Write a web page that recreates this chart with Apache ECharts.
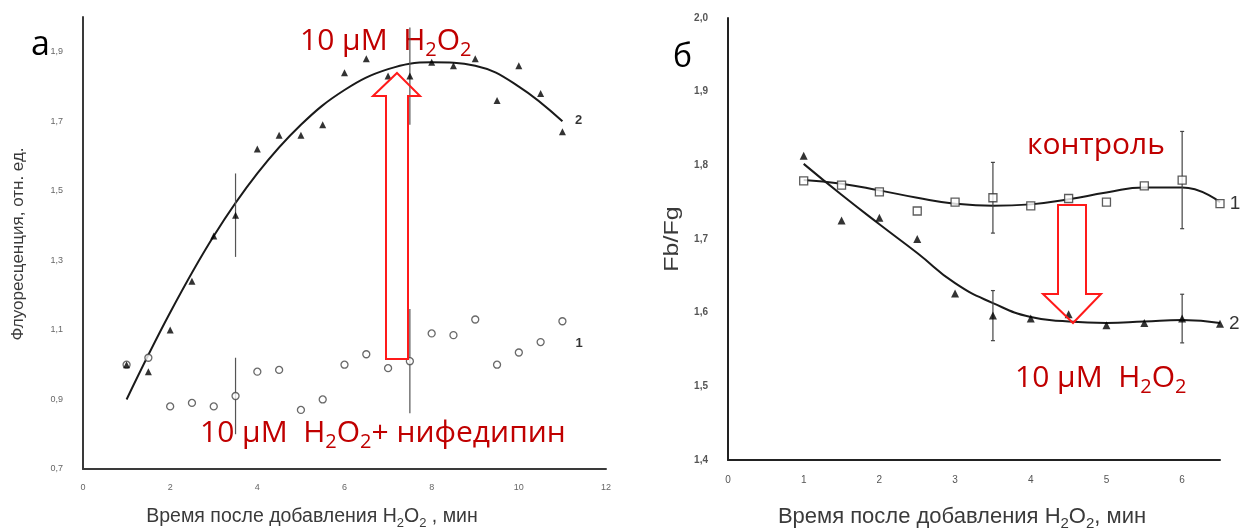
<!DOCTYPE html>
<html><head><meta charset="utf-8">
<script src="https://cdn.jsdelivr.net/npm/echarts@6/dist/echarts.min.js"></script>
<style>html,body{margin:0;padding:0;background:#fff}#c{width:1240px;height:529px}</style>
</head><body><div id="c"></div>
<script>
// ---------- Panel а ----------
const timeA = [1, 1.5, 2, 2.5, 3, 3.5, 4, 4.5, 5, 5.5, 6, 6.5, 7, 7.5, 8, 8.5, 9, 9.5, 10, 10.5, 11];
const nifedipineA = [1.00, 1.02, 0.88, 0.89, 0.88, 0.91, 0.98, 0.985, 0.87, 0.90, 1.00, 1.03, 0.99, 1.01, 1.09, 1.085, 1.13, 1.00, 1.035, 1.065, 1.125];
const h2o2A = [1.00, 0.98, 1.10, 1.24, 1.37, 1.43, 1.62, 1.66, 1.66, 1.69, 1.84, 1.88, 1.83, 1.83, 1.87, 1.86, 1.88, 1.76, 1.86, 1.78, 1.67];
const trendTimeA = [1, 2, 3, 4, 5, 6, 7, 8, 9, 10, 11];
const trendA = [0.90, 1.15, 1.37, 1.55, 1.69, 1.79, 1.85, 1.87, 1.86, 1.80, 1.70];
const errTimeA = [3.5, 7.5, 3.5, 7.5];
const errMeanA = [1.43, 1.83, 0.91, 1.01];
const errSizeA = [0.12, 0.14, 0.11, 0.15];
const yTicksA = ['0,7', '0,9', '1,1', '1,3', '1,5', '1,7', '1,9'];

// ---------- Panel б ----------
const timeB = [1, 1.5, 2, 2.5, 3, 3.5, 4, 4.5, 5, 5.5, 6, 6.5];
const controlB = [1.779, 1.773, 1.764, 1.738, 1.750, 1.756, 1.745, 1.755, 1.750, 1.772, 1.780, 1.748];
const h2o2B = [1.813, 1.725, 1.729, 1.700, 1.626, 1.596, 1.592, 1.598, 1.583, 1.586, 1.592, 1.585];
const trendControlB = [1.780, 1.775, 1.766, 1.756, 1.748, 1.745, 1.747, 1.754, 1.763, 1.770, 1.770, 1.750];
const trendH2o2B = [1.802, 1.760, 1.720, 1.681, 1.640, 1.613, 1.594, 1.588, 1.586, 1.588, 1.590, 1.586];
const errTimeB = [3.5, 6, 3.5, 6];
const errMeanB = [1.756, 1.780, 1.596, 1.592];
const errSizeB = [0.048, 0.066, 0.034, 0.033];
const yTicksB = ['1,4', '1,5', '1,6', '1,7', '1,8', '1,9', '2,0'];
const xTicksB = ['0', '1', '2', '3', '4', '5', '6'];

const fmt = v => (Math.round(v * 10) / 10).toFixed(1).replace('.', ',');
const pairs = (xs, ys) => xs.map((x, i) => [x, ys[i]]);
const errData = (xs, ys, es) => xs.map((x, i) => [x, ys[i], es[i]]);

function withLastLabel(data, text, offset, size, weight) {
  return data.map((d, i) => i === data.length - 1
    ? { value: d, label: { show: true, position: 'right', formatter: text, offset: offset, fontSize: size, fontWeight: weight, color: '#000', fontFamily: 'Liberation Sans' } }
    : d);
}

function errRender(cap, color) {
  return function (params, api) {
    const x = api.value(0), y = api.value(1), e = api.value(2);
    const t = api.coord([x, y + e]);
    const b = api.coord([x, y - e]);
    const st = { stroke: color, lineWidth: 1.2 };
    const ch = [{ type: 'line', shape: { x1: t[0], y1: t[1], x2: b[0], y2: b[1] }, style: st }];
    if (cap) {
      ch.push({ type: 'line', shape: { x1: t[0] - 2, y1: t[1], x2: t[0] + 2, y2: t[1] }, style: st });
      ch.push({ type: 'line', shape: { x1: b[0] - 2, y1: b[1], x2: b[0] + 2, y2: b[1] }, style: st });
    }
    return { type: 'group', children: ch };
  };
}

const axisFont = 'Liberation Sans';
const chart = echarts.init(document.getElementById('c'), null, { renderer: 'canvas' });

const redRich = (size, sub) => ({
  a: { fontSize: size, fontFamily: 'Open Sans', fill: '#c00000', color: '#c00000', lineHeight: Math.round(size * 1.27) },
  s: { fontSize: sub, fontFamily: 'Open Sans', fill: '#c00000', color: '#c00000', verticalAlign: 'bottom', lineHeight: sub }
});
const greyRich = (size, sub) => ({
  a: { fontSize: size, fontFamily: axisFont, fill: '#3a3a3a', color: '#3a3a3a', lineHeight: Math.round(size * 1.27) },
  s: { fontSize: sub, fontFamily: axisFont, fill: '#3a3a3a', color: '#3a3a3a', verticalAlign: 'bottom', lineHeight: sub }
});

const option = {
  animation: false,
  backgroundColor: '#fff',
  grid: [
    { left: 83, top: 17, width: 523, height: 452 },
    { left: 728, top: 18, width: 492, height: 442 }
  ],
  xAxis: [
    {
      gridIndex: 0, type: 'value', min: 0, max: 12, interval: 2,
      axisLine: { show: true, onZero: false, lineStyle: { color: '#3a3a3a', width: 2 } },
      axisTick: { show: false }, splitLine: { show: false },
      axisLabel: { fontSize: 9, color: '#666', margin: 14, fontFamily: axisFont }
    },
    {
      gridIndex: 1, type: 'value', min: 0, max: 6.5, interval: 1,
      axisLine: { show: true, onZero: false, lineStyle: { color: '#222', width: 2 } },
      axisTick: { show: false }, splitLine: { show: false },
      axisLabel: {
        fontSize: 10, color: '#555', margin: 15, fontFamily: axisFont, showMaxLabel: false,
        formatter: v => xTicksB.includes(String(v)) ? String(v) : ''
      }
    }
  ],
  yAxis: [
    {
      gridIndex: 0, type: 'value', min: 0.7, max: 2.0, interval: 0.1,
      axisLine: { show: true, onZero: false, lineStyle: { color: '#3a3a3a', width: 2 } },
      axisTick: { show: false }, splitLine: { show: false },
      axisLabel: {
        fontSize: 9, color: '#666', margin: 20, fontFamily: axisFont, showMaxLabel: false,
        formatter: v => yTicksA.includes(fmt(v)) ? fmt(v) : ''
      }
    },
    {
      gridIndex: 1, type: 'value', min: 1.4, max: 2.0, interval: 0.1,
      axisLine: { show: true, onZero: false, lineStyle: { color: '#222', width: 2 } },
      axisTick: { show: false }, splitLine: { show: false },
      axisLabel: {
        fontSize: 10, color: '#555', margin: 20, fontFamily: axisFont, fontWeight: 'bold',
        formatter: v => yTicksB.includes(fmt(v)) ? fmt(v) : ''
      }
    }
  ],
  series: [
    // panel а
    {
      type: 'line', xAxisIndex: 0, yAxisIndex: 0, data: pairs(trendTimeA, trendA), smooth: 0.4,
      symbol: 'none', lineStyle: { color: '#1a1a1a', width: 2 }, z: 2
    },
    {
      type: 'custom', xAxisIndex: 0, yAxisIndex: 0, data: errData(errTimeA, errMeanA, errSizeA),
      encode: { x: 0, y: 1 }, renderItem: errRender(false, '#555'), z: 3
    },
    {
      type: 'scatter', xAxisIndex: 0, yAxisIndex: 0,
      data: withLastLabel(pairs(timeA, nifedipineA), '1', [4, 22], 13, 'bold'),
      symbol: 'circle', symbolSize: 7,
      itemStyle: { color: '#fff', borderColor: '#444', borderWidth: 1.3 }, z: 4
    },
    {
      type: 'scatter', xAxisIndex: 0, yAxisIndex: 0,
      data: withLastLabel(pairs(timeA, h2o2A), '2', [4, -11], 13, 'bold'),
      symbol: 'triangle', symbolSize: 7, itemStyle: { color: '#000' }, z: 5
    },
    // panel б
    {
      type: 'line', xAxisIndex: 1, yAxisIndex: 1, data: pairs(timeB, trendControlB), smooth: 0.5,
      symbol: 'none', lineStyle: { color: '#1a1a1a', width: 2 }, z: 2
    },
    {
      type: 'line', xAxisIndex: 1, yAxisIndex: 1, data: pairs(timeB, trendH2o2B), smooth: 0.5,
      symbol: 'none', lineStyle: { color: '#1a1a1a', width: 2 }, z: 2
    },
    {
      type: 'custom', xAxisIndex: 1, yAxisIndex: 1, data: errData(errTimeB, errMeanB, errSizeB),
      encode: { x: 0, y: 1 }, renderItem: errRender(true, '#444'), z: 3
    },
    {
      type: 'scatter', xAxisIndex: 1, yAxisIndex: 1,
      data: withLastLabel(pairs(timeB, controlB), '1', [0, 0], 19, 'normal'),
      symbol: 'rect', symbolSize: 8,
      itemStyle: { color: '#fff', borderColor: '#333', borderWidth: 1.3 }, z: 4
    },
    {
      type: 'scatter', xAxisIndex: 1, yAxisIndex: 1,
      data: withLastLabel(pairs(timeB, h2o2B), '2', [0, 0], 19, 'normal'),
      symbol: 'triangle', symbolSize: 8, itemStyle: { color: '#000' }, z: 5
    }
  ],
  graphic: [
    // panel letters
    { type: 'text', left: 31, top: 28, style: { text: 'а', fontSize: 34, fontFamily: 'Open Sans', fill: '#000' } },
    { type: 'text', left: 673, top: 42, style: { text: 'б', fontSize: 32, fontFamily: 'Open Sans', fill: '#000' } },
    // axis titles
    {
      type: 'text', x: 18, y: 244, rotation: Math.PI / 2,
      style: { text: 'Флуоресценция, отн. ед.', fontSize: 17, fontFamily: axisFont, fill: '#3a3a3a', align: 'center', verticalAlign: 'middle' }
    },
    {
      type: 'text', x: 672, y: 239, rotation: Math.PI / 2, scaleX: 1.25,
      style: { text: 'Fb/Fg', fontSize: 20, fontFamily: axisFont, fill: '#3a3a3a', align: 'center', verticalAlign: 'middle' }
    },
    {
      type: 'text', x: 312, y: 517,
      style: { text: '{a|Время после добавления H}{s|2}{a|O}{s|2}{a| , мин}', rich: greyRich(19.5, 13), align: 'center', verticalAlign: 'middle' }
    },
    {
      type: 'text', x: 962, y: 517,
      style: { text: '{a|Время после добавления H}{s|2}{a|O}{s|2}{a|, мин}', rich: greyRich(22, 15), align: 'center', verticalAlign: 'middle' }
    },
    // red annotations
    {
      type: 'text', left: 300, top: 26,
      style: { text: '{a|10 µM  H}{s|2}{a|O}{s|2}', rich: redRich(30, 20) }
    },
    {
      type: 'text', left: 200, top: 418,
      style: { text: '{a|10 µM  H}{s|2}{a|O}{s|2}{a|+ нифедипин}', rich: redRich(30, 20) }
    },
    {
      type: 'text', left: 1027, top: 130,
      style: { text: '{a|контроль}', rich: redRich(30, 20) }
    },
    {
      type: 'text', left: 1015, top: 363,
      style: { text: '{a|10 µM  H}{s|2}{a|O}{s|2}', rich: redRich(30, 20) }
    },
    // arrows
    {
      type: 'polygon', z: 10,
      shape: { points: [[397, 73], [420, 96], [408, 96], [408, 359], [386, 359], [386, 96], [373, 96]] },
      style: { fill: 'none', stroke: '#ff1a1a', lineWidth: 2 }
    },
    {
      type: 'polygon', z: 10,
      shape: { points: [[1058, 205], [1086, 205], [1086, 294], [1101, 294], [1073, 323], [1043, 294], [1058, 294]] },
      style: { fill: 'none', stroke: '#ff1a1a', lineWidth: 2 }
    }
  ]
};
chart.setOption(option);
</script>
</body></html>
